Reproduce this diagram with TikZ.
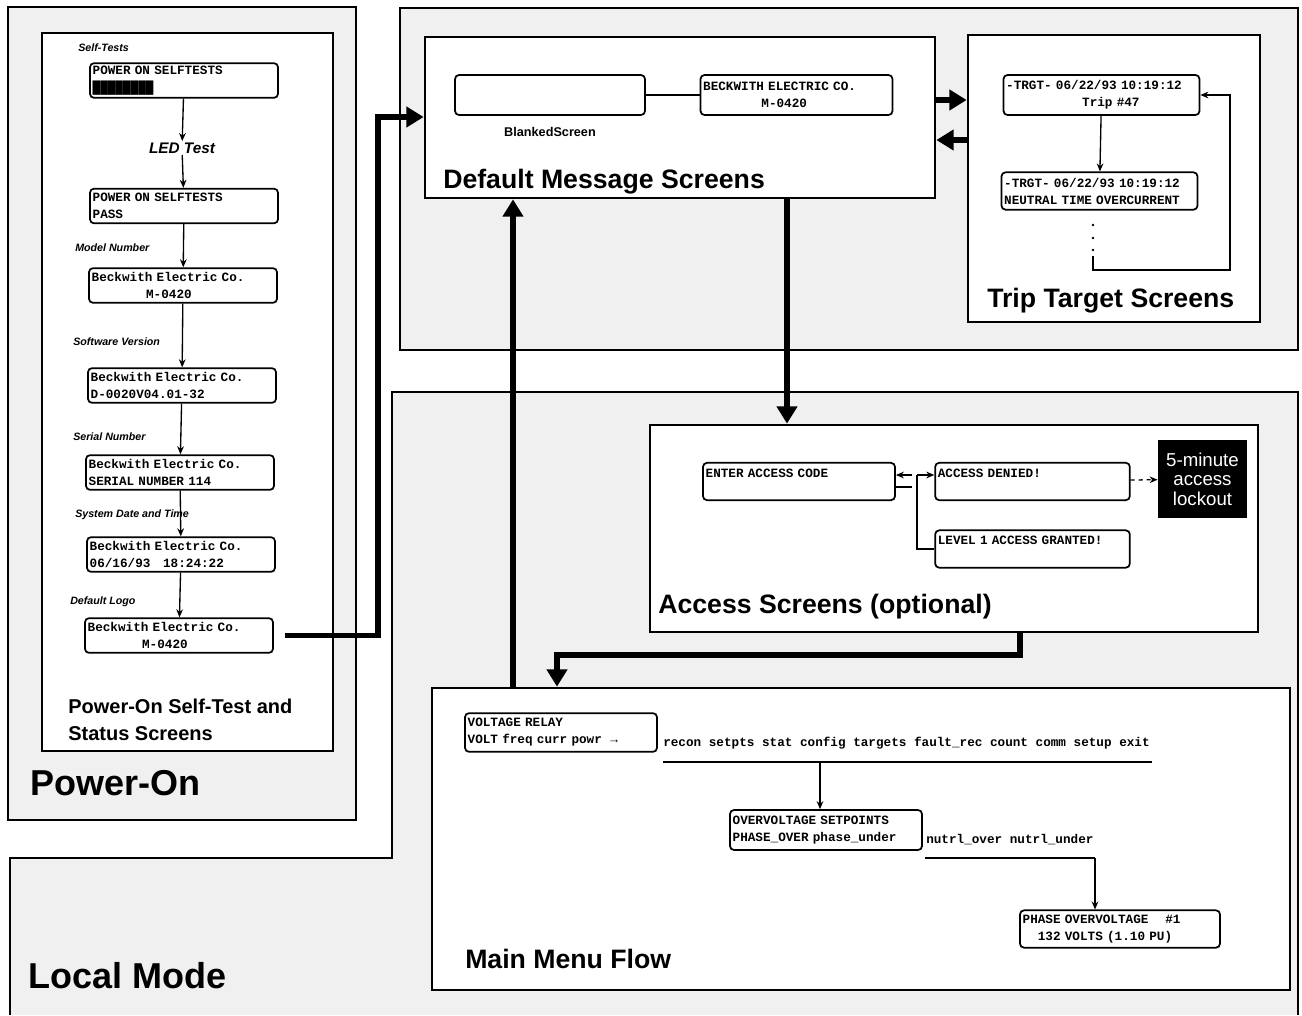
\documentclass[tikz,border=0pt]{standalone}
\usepackage{fontspec}
\setmainfont{Liberation Sans}
\setsansfont{Liberation Sans}
\setmonofont{Liberation Mono}
\usetikzlibrary{arrows.meta, positioning, calc}
\tikzset{
  shade/.style={draw, line width=1.2pt, fill=gray!12},
  frame/.style={draw, line width=2pt, fill=white, inner sep=0pt},
  lcd/.style={draw, rounded corners=3pt, line width=1.3pt, fill=white,
              align=left, inner sep=2pt, minimum height=26pt,
              font=\ttfamily\bfseries\fontsize{9.5}{12.75}\selectfont},
  tag/.style={anchor=west, inner sep=0pt,
              font=\sffamily\bfseries\itshape\fontsize{8}{9}\selectfont},
  ttl/.style={anchor=base west, inner sep=0pt,
              font=\sffamily\bfseries\fontsize{20}{24}\selectfont},
  bigttl/.style={anchor=base west, inner sep=0pt,
              font=\sffamily\bfseries\fontsize{27}{30}\selectfont},
  thin/.style={-{Stealth[length=6pt,width=5pt]}, line width=1pt},
  bigarr/.style={-{Triangle[length=13pt,width=15pt]}, line width=4pt},
}
\begin{document}
\begin{tikzpicture}[x=0.75pt, y=-0.75pt]
  \useasboundingbox (0,0) rectangle (1302,1015);
  % shaded areas
  \draw[shade] (8,7) rectangle (356,820);
  \draw[shade] (400,8) rectangle (1298,350);
  \draw[shade] (10,1015) -- (10,858) -- (392,858) -- (392,392) -- (1298,392) -- (1298,1015);

  % Power-On column
  \node[frame, minimum width=218.25pt, minimum height=538.5pt] (psts) at (187.5,392) {};
  \node[tag] at (78,48) {Self-Tests};
  \node[lcd, text width=137pt] (st1) at (184,80.5) {POWER ON SELFTESTS\\████████};
  \node[inner sep=1pt, font=\sffamily\bfseries\itshape\fontsize{11.5}{13}\selectfont] (led) at (182,148) {LED Test};
  \node[lcd, text width=137pt] (st2) at (184,206) {POWER ON SELFTESTS\\PASS};
  \node[tag] at (75,248) {Model Number};
  \node[lcd, text width=137pt] (model) at (183,285.5) {Beckwith Electric Co.\\\hspace*{4.3em}M-0420};
  \node[tag] at (73,342) {Software Version};
  \node[lcd, text width=137pt] (soft) at (182,385.5) {Beckwith Electric Co.\\D-0020V04.01-32};
  \node[tag] at (73,437) {Serial Number};
  \node[lcd, text width=137pt] (serial) at (180,472.5) {Beckwith Electric Co.\\SERIAL NUMBER 114};
  \node[tag] at (75,515) {System Date and Time};
  \node[lcd, text width=137pt] (date) at (181,554.5) {Beckwith Electric Co.\\06/16/93\ \ \ 18:24:22};
  \node[tag] at (70,602) {Default Logo};
  \node[lcd, text width=137pt] (logo) at (179,635.5) {Beckwith Electric Co.\\\hspace*{4.3em}M-0420};
  \draw[thin] (st1) -- (led);
  \draw[thin] (led) -- (st2);
  \draw[thin] (st2) -- (model);
  \draw[thin] (model) -- (soft);
  \draw[thin] (soft) -- (serial);
  \draw[thin] (serial) -- (date);
  \draw[thin] (date) -- (logo);
  \node[anchor=north west, inner sep=0pt, align=left,
        font=\sffamily\bfseries\fontsize{15}{20}\selectfont] at (68,699) {Power-On Self-Test and\\Status Screens};
  \node[bigttl] at (30,795) {Power-On};

  % Default message screens
  \node[frame, minimum width=382.5pt, minimum height=120.75pt] (dms) at (680,117.5) {};
  \node[lcd, minimum width=142.5pt, minimum height=30pt] (blank) at (550,95) {};
  \node[font=\sffamily\bfseries\fontsize{9.5}{11}\selectfont, below=5pt of blank] {BlankedScreen};
  \node[lcd, text width=140pt, minimum height=30pt] (logo2) at (796.5,95) {BECKWITH ELECTRIC CO.\\\hspace*{4.6em}M-0420};
  \draw[line width=1.2pt] (blank) -- (logo2);
  \node[ttl] at (443,188) {Default Message Screens};

  % Trip target screens
  \node[frame, minimum width=219pt, minimum height=215.25pt] (trip) at (1114,178.5) {};
  \node[lcd, text width=143pt, minimum height=30pt] (trip47) at (1101.5,95) {-TRGT- 06/22/93 10:19:12\\\hspace*{6em}Trip \#47};
  \node[lcd, text width=143pt, minimum height=28pt] (neutral) at (1099.5,191) {-TRGT- 06/22/93 10:19:12\\NEUTRAL TIME OVERCURRENT};
  \draw[thin] (trip47) -- (neutral);
  \foreach \y in {225,238,250} \fill (1093,\y) circle (1pt);
  \coordinate (loopa) at (1093,256);
  \coordinate (loopb) at (1230,270);
  \draw[thin] (loopa) |- (loopb) -- (loopb |- trip47.east) -- (trip47.east);
  \node[ttl] at (987,307) {Trip Target Screens};

  % Access screens
  \node[frame, minimum width=456pt, minimum height=155.25pt] (access) at (954,528.5) {};
  \node[lcd, text width=140pt, minimum height=28pt] (enter) at (799,481.5) {ENTER ACCESS CODE\\~};
  \node[lcd, text width=142pt, minimum height=28pt] (denied) at (1032.5,481.5) {ACCESS DENIED!\\~};
  \node[lcd, text width=142pt, minimum height=28pt] (level) at (1032.5,549) {LEVEL 1 ACCESS GRANTED!\\~};
  \node[fill=black, text=white, minimum width=67pt, minimum height=58pt, align=center,
        font=\sffamily\fontsize{14}{14.5}\selectfont] (lock) at (1202.5,479) {5-minute\\access\\lockout};
  \coordinate (br1) at (917,475);
  \coordinate (br2) at (912,487);
  \coordinate (br3) at (917,549);
  \draw[thin] ([xshift=-4pt]br1) -- (br1 -| enter.east);
  \draw[line width=1.2pt] (enter.east |- br2) -- (br2);
  \draw[thin] (br1) -- (br1 -| denied.west);
  \draw[line width=1pt] (br1) -- (br3) -- (br3 -| level.west);
  \draw[thin, dashed] (denied) -- (lock);
  \node[ttl] at (658,613) {Access Screens (optional)};

  % Main menu flow
  \node[frame, minimum width=643.5pt, minimum height=226.5pt] (menu) at (861,839) {};
  \node[lcd, text width=140pt, minimum height=29pt] (relay) at (561,732.5) {VOLTAGE RELAY\\VOLT freq curr powr\ \ →};
  \node[anchor=base west, inner sep=0pt, font=\ttfamily\bfseries\fontsize{9.5}{12}\selectfont] (opts) at (663,746)
    {recon setpts stat config targets fault\_rec count comm setup exit};
  \coordinate (ula) at (663,762);
  \coordinate (ulb) at (1152,762);
  \coordinate (drop) at (820,762);
  \draw[line width=1.5pt] (ula) -- (ulb);
  \node[lcd, text width=140pt, minimum height=30pt] (ov) at (826,830) {OVERVOLTAGE SETPOINTS\\PHASE\_OVER phase\_under};
  \draw[thin] (drop) -- (drop |- ov.north);
  \node[anchor=base west, inner sep=0pt, font=\ttfamily\bfseries\fontsize{9.5}{12}\selectfont] (nopts) at (926,843)
    {nutrl\_over nutrl\_under};
  \coordinate (ulc) at (925,858);
  \coordinate (uld) at (1095,858);
  \draw[line width=1.5pt] (ulc) -- (uld);
  \node[lcd, text width=146pt, minimum height=28pt] (phase) at (1120,929) {PHASE OVERVOLTAGE\ \ \ \ \#1\\\hspace*{1.2em}132 VOLTS (1.10 PU)};
  \draw[thin] (uld) -- (uld |- phase.north);
  \node[ttl] at (465,968) {Main Menu Flow};
  \node[bigttl] at (28,988) {Local Mode};

  % flow between screen groups
  \coordinate (bend) at (378,117);
  \coordinate (fw) at (950,100);
  \coordinate (bk) at (950,140);
  \coordinate (up) at (513,0);
  \coordinate (dn) at (787,0);
  \coordinate (acc) at (1020,655);
  \coordinate (mn) at (557,655);
  \draw[bigarr] ([xshift=8pt]logo.east) -| (bend) -- (bend -| dms.west);
  \draw[bigarr] (dms.east |- fw) -- (trip.west |- fw);
  \draw[bigarr] (trip.west |- bk) -- (dms.east |- bk);
  \draw[bigarr] (dms.south -| dn) -- (access.north -| dn);
  \draw[bigarr] (menu.north -| up) -- (dms.south -| up);
  \draw[bigarr] (access.south -| acc) -- (acc) -- (mn) -- (menu.north -| mn);
\end{tikzpicture}
\end{document}
